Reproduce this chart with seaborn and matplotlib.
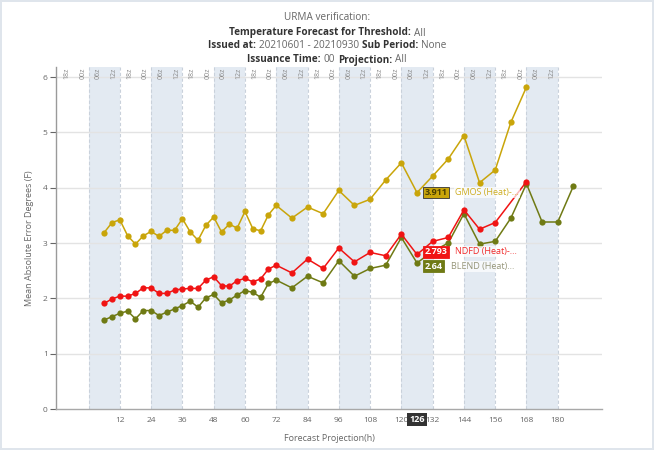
import pandas as pd
import matplotlib
matplotlib.use("Agg")
import matplotlib.pyplot as plt
import seaborn as sns

# Forecast projection hours and mean absolute error per model
gmos_hours = [6, 9, 12, 15, 18, 21, 24, 27, 30, 33, 36, 39, 42, 45, 48, 51, 54, 57, 60, 63, 66, 69, 72,
              78, 84, 90, 96, 102, 108, 114, 120, 126, 132, 138, 144, 150, 156, 162, 168]
gmos_mae = [3.19, 3.37, 3.42, 3.13, 2.98, 3.13, 3.21, 3.12, 3.23, 3.23, 3.44, 3.20, 3.05, 3.32, 3.47, 3.20,
            3.34, 3.27, 3.57, 3.26, 3.22, 3.51, 3.68, 3.45, 3.65, 3.53, 3.95, 3.68, 3.79, 4.14, 4.45, 3.911,
            4.21, 4.52, 4.94, 4.09, 4.32, 5.18, 5.82]

ndfd_hours = [6, 9, 12, 15, 18, 21, 24, 27, 30, 33, 36, 39, 42, 45, 48, 51, 54, 57, 60, 63, 66, 69, 72,
              78, 84, 90, 96, 102, 108, 114, 120, 126, 132, 138, 144, 150, 156, 168]
ndfd_mae = [1.91, 1.99, 2.04, 2.04, 2.09, 2.19, 2.19, 2.09, 2.09, 2.15, 2.17, 2.18, 2.18, 2.33, 2.39, 2.23,
            2.22, 2.32, 2.36, 2.30, 2.35, 2.53, 2.60, 2.46, 2.71, 2.54, 2.91, 2.66, 2.83, 2.77, 3.16, 2.793,
            3.03, 3.10, 3.60, 3.25, 3.37, 4.11]

blend_hours = [6, 9, 12, 15, 18, 21, 24, 27, 30, 33, 36, 39, 42, 45, 48, 51, 54, 57, 60, 63, 66, 69, 72,
               78, 84, 90, 96, 102, 108, 114, 120, 126, 132, 138, 144, 150, 156, 162, 168, 174, 180, 186]
blend_mae = [1.61, 1.67, 1.73, 1.77, 1.63, 1.78, 1.78, 1.69, 1.75, 1.81, 1.87, 1.95, 1.84, 2.01, 2.07, 1.92,
             1.97, 2.06, 2.14, 2.11, 2.02, 2.27, 2.33, 2.19, 2.40, 2.28, 2.68, 2.40, 2.54, 2.60, 3.10, 2.64,
             2.85, 3.00, 3.53, 2.98, 3.03, 3.45, 4.07, 3.38, 3.38, 4.03]

# shaded day bands and top hour-of-day labels
band_starts = [0, 24, 48, 72, 96, 120, 144, 168]
top_hours = [-6, 0, 6, 12, 18, 24, 30, 36, 42, 48, 54, 60, 66, 72, 78, 84, 90, 96, 102, 108, 114, 120,
             126, 132, 138, 144, 150, 156, 162, 168, 174, 180]
top_labels = ["18z", "00z", "06z", "12z"] * 8
x_ticks = [12, 24, 36, 48, 60, 72, 84, 96, 108, 120, 132, 144, 156, 168, 180]

# tooltip values shown at 126h
tip_hour = 126
tip_text = ["3.911", "2.793", "2.64"]
tip_names = ["GMOS (Heat)-...", "NDFD (Heat)-...", "BLEND (Heat)..."]
tip_y = [3.911, 2.84, 2.58]

colors = {"GMOS": "#c9a50a", "NDFD": "#f01414", "BLEND": "#6f7a14"}

df = pd.concat([
    pd.DataFrame({"hour": blend_hours, "mae": blend_mae, "model": "BLEND"}),
    pd.DataFrame({"hour": ndfd_hours, "mae": ndfd_mae, "model": "NDFD"}),
    pd.DataFrame({"hour": gmos_hours, "mae": gmos_mae, "model": "GMOS"}),
])

sns.set_style("white")
plt.rcParams["font.family"] = ["Open Sans", "DejaVu Sans"]

fig = plt.figure(figsize=(6.54, 4.5), dpi=100)
fig.patch.set_edgecolor("#dfe5ec")
fig.patch.set_linewidth(1.5)
ax = fig.add_axes([0.0856, 0.091, 0.835, 0.76])

for b in band_starts:
    ax.axvspan(b, b + 12, color="#e3eaf2", zorder=0, lw=0)
    ax.axvline(b, color="#c9d1db", ls=(0, (3, 2)), lw=0.8, zorder=0.5)
    ax.axvline(b + 12, color="#c9d1db", ls=(0, (3, 2)), lw=0.8, zorder=0.5)

for yv in range(1, 7):
    ax.axhline(yv, color="#e3e3e3", lw=1, zorder=0.8)

sns.lineplot(data=df, x="hour", y="mae", hue="model", hue_order=["BLEND", "NDFD", "GMOS"],
             palette=colors, marker="o", markersize=4.5, markeredgewidth=0, linewidth=1.1,
             legend=False, sort=False, ax=ax, zorder=3)

ax.set_xlim(-12.5, 197)
ax.set_ylim(0, 6.18)
ax.set_xticks(x_ticks)
ax.set_yticks(range(0, 7))
ax.tick_params(axis="x", length=0, labelsize=6, colors="#666666", pad=6)
ax.tick_params(axis="y", length=4, width=0.8, labelsize=6, colors="#666666", pad=2, left=True)
for s in ["top", "right"]:
    ax.spines[s].set_visible(False)
ax.spines["left"].set_color("#9a9a9a")
ax.spines["bottom"].set_color("#a8a8a8")
ax.spines["left"].set_linewidth(1)
ax.spines["bottom"].set_linewidth(1)
ax.set_xlabel("Forecast Projection(h)", fontsize=6.5, color="#666666", labelpad=7)
ax.set_ylabel("Mean Absolute Error Degrees (F)", fontsize=6.5, color="#666666", labelpad=6)

for h, lab in zip(top_hours, top_labels):
    ax.text(h - 2.2, 6.07, lab, rotation=90, ha="center", va="center", fontsize=5, color="#8a8a8a")

# tooltips at 126h
box_fc = ["#c9a50a", "#f01414", "#6f7a14"]
box_tc = ["#4a3f00", "white", "white"]
name_c = ["#c9a50a", "#f01414", "#8a8a6a"]
for txt, nm, yv, fc, tc, nc in zip(tip_text, tip_names, tip_y, box_fc, box_tc, name_c):
    ax.text(tip_hour + 3, yv, txt, fontsize=6.5, fontweight="bold", color=tc, va="center", ha="left",
            zorder=6, bbox=dict(boxstyle="square,pad=0.15", fc=fc, ec="#333333" if tc != "white" else fc, lw=0.6))
    ax.text(tip_hour + 14.5 if len(txt) > 4 else tip_hour + 13, yv, nm, fontsize=6.5, color=nc,
            va="center", ha="left", zorder=6, alpha=0.9,
            bbox=dict(boxstyle="square,pad=0.1", fc="white", ec="none", alpha=0.7))

ax.text(tip_hour, -0.03, str(tip_hour), fontsize=6.5, fontweight="bold", color="white", ha="center",
        va="center", transform=ax.get_xaxis_transform(), zorder=7,
        bbox=dict(boxstyle="square,pad=0.2", fc="#333333", ec="none"))


def rich_line(y, parts, size=7.2):
    texts = []
    for s, bold in parts:
        t = fig.text(0, y, s, fontsize=size, fontweight="bold" if bold else "normal",
                     color="#333333" if bold else "#666666", ha="left", va="center")
        texts.append(t)
    fig.canvas.draw()
    r = fig.canvas.get_renderer()
    gap = 3
    widths = [t.get_window_extent(r).width for t in texts]
    total = sum(widths) + gap * (len(widths) - 1)
    W = fig.bbox.width
    x = W / 2 - total / 2
    for t, w in zip(texts, widths):
        t.set_x(x / W)
        x += w + gap


rich_line(1 - 18 / 450, [("URMA verification:", False)])
rich_line(1 - 33 / 450, [("Temperature Forecast for Threshold:", True), ("All", False)])
rich_line(1 - 46 / 450, [("Issued at:", True), ("20210601 - 20210930", False), ("Sub Period:", True), ("None", False)])
rich_line(1 - 60 / 450, [("Issuance Time:", True), ("00", False), ("Projection:", True), ("All", False)])

fig.savefig("out.png", dpi=100)
